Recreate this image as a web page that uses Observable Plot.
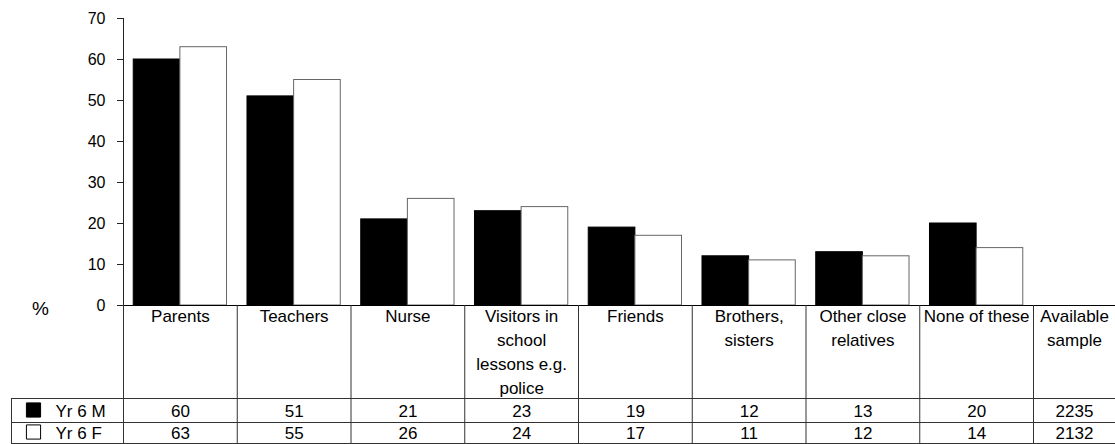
<!DOCTYPE html>
<html>
<head>
<meta charset="utf-8">
<script src="https://cdn.jsdelivr.net/npm/d3@7"></script>
<script src="https://cdn.jsdelivr.net/npm/@observablehq/plot@0.6"></script>
<style>
  html, body { margin: 0; padding: 0; background: #fff; }
  #chart { position: relative; width: 1115px; height: 444px; overflow: hidden; }
  #chart svg { position: absolute; left: 0; top: 0; overflow: visible; }
</style>
</head>
<body>
<div id="chart"></div>
<script>
// ---- data ----
const categories = ["Parents", "Teachers", "Nurse", "Visitors in\nschool\nlessons e.g.\npolice", "Friends", "Brothers,\nsisters", "Other close\nrelatives", "None of these"];
const seriesNames = ["Yr 6 M", "Yr 6 F"];
const male = [60, 51, 21, 23, 19, 12, 13, 20];
const female = [63, 55, 26, 24, 17, 11, 12, 14];
const sampleLabel = "Available\nsample";
const sample = [2235, 2132];
const yTicks = [0, 10, 20, 30, 40, 50, 60, 70];
const yLabel = "%";

// ---- layout ----
const W = 1115, H = 444;
const font = "'Liberation Sans', Arial, Helvetica, sans-serif";
const xScale = {type: "linear", domain: [0, categories.length], range: [123, 1033]};
const colCenter = 0.5;
const barPadL = 0.09, barPadR = 0.91;
const tableTop = 305, headerBottom = 398, row1Bottom = 422, row2Bottom = 443;
const headerTextTop = 305;
const rowMid = [411, 433];
const lineColor = "#333";
const tableFont = 17;

const bars = [];
categories.forEach((c, i) => {
  bars.push({i, series: seriesNames[0], value: male[i], x1: i + barPadL, x2: i + colCenter});
  bars.push({i, series: seriesNames[1], value: female[i], x1: i + colCenter, x2: i + barPadR});
});

const chart = document.getElementById("chart");

// ---- bar chart ----
const p1 = Plot.plot({
  width: W, height: H,
  marginLeft: 123, marginRight: 0, marginTop: 18, marginBottom: H - 305,
  style: {fontFamily: font, background: "transparent", color: "#000"},
  x: {...xScale, axis: null},
  y: {domain: [0, 70], range: [305, 18], axis: null},
  marks: [
    Plot.rect(bars, {
      x1: "x1", x2: "x2", y1: 0, y2: "value",
      fill: d => d.series === seriesNames[0] ? "#000" : "#fff",
      stroke: d => d.series === seriesNames[0] ? "#000" : "#666",
      strokeWidth: 1
    }),
    Plot.axisY({ticks: yTicks, tickSize: 6, tickPadding: 12, fontSize: 16, label: null, stroke: "#222", color: "#000"}),
    Plot.ruleX([0], {y1: 0, y2: 70, stroke: "#222"}),
    Plot.ruleY([0], {stroke: "#000"})
  ]
});
chart.appendChild(p1);

// ---- data table ----
const valueCells = [];
categories.forEach((c, i) => {
  valueCells.push({i, row: 0, text: String(male[i])});
  valueCells.push({i, row: 1, text: String(female[i])});
});
const colEdges = d3.range(0, categories.length + 1);

const p2 = Plot.plot({
  width: W, height: H,
  marginLeft: 11, marginRight: 0, marginTop: 0, marginBottom: 0,
  style: {fontFamily: font, background: "transparent", color: "#000"},
  x: {...xScale, axis: null},
  y: {type: "identity", axis: null},
  marks: [
    // grid lines
    Plot.ruleY([headerBottom, row1Bottom, row2Bottom], {stroke: lineColor}),
    Plot.ruleX(colEdges, {y1: tableTop, y2: row2Bottom, stroke: lineColor}),
    Plot.ruleX([0], {y1: headerBottom, y2: row2Bottom, dx: -112, stroke: lineColor}),
    // header labels
    Plot.text(categories, {
      x: (d, i) => i + colCenter, y: headerTextTop, text: d => d,
      lineAnchor: "top", lineHeight: 1.4, fontSize: tableFont, fill: "#000"
    }),
    Plot.text([sampleLabel], {
      x: categories.length, dx: 41, y: headerTextTop, text: d => d,
      lineAnchor: "top", lineHeight: 1.4, fontSize: tableFont, fill: "#000"
    }),
    // values
    Plot.text(valueCells, {
      x: d => d.i + colCenter, y: d => rowMid[d.row], text: "text",
      lineAnchor: "middle", fontSize: tableFont, fill: "#000"
    }),
    Plot.text(sample, {
      x: categories.length, dx: 41, y: (d, i) => rowMid[i], text: d => String(d),
      lineAnchor: "middle", fontSize: tableFont, fill: "#000"
    }),
    // legend
    Plot.dot(seriesNames, {
      x: 0, dx: -90, y: (d, i) => rowMid[i] - 1.5, symbol: "square", r: 8,
      fill: (d, i) => i === 0 ? "#000" : "#fff", stroke: "#000", strokeWidth: 1
    }),
    Plot.text(seriesNames, {
      x: 0, dx: -68, y: (d, i) => rowMid[i], text: d => d,
      textAnchor: "start", lineAnchor: "middle", fontSize: tableFont, fill: "#000"
    }),
    // y label
    Plot.text([yLabel], {
      x: 0, dx: -83, y: 308, text: d => d,
      lineAnchor: "middle", fontSize: 19, fill: "#000"
    })
  ]
});
chart.appendChild(p2);
</script>
</body>
</html>
